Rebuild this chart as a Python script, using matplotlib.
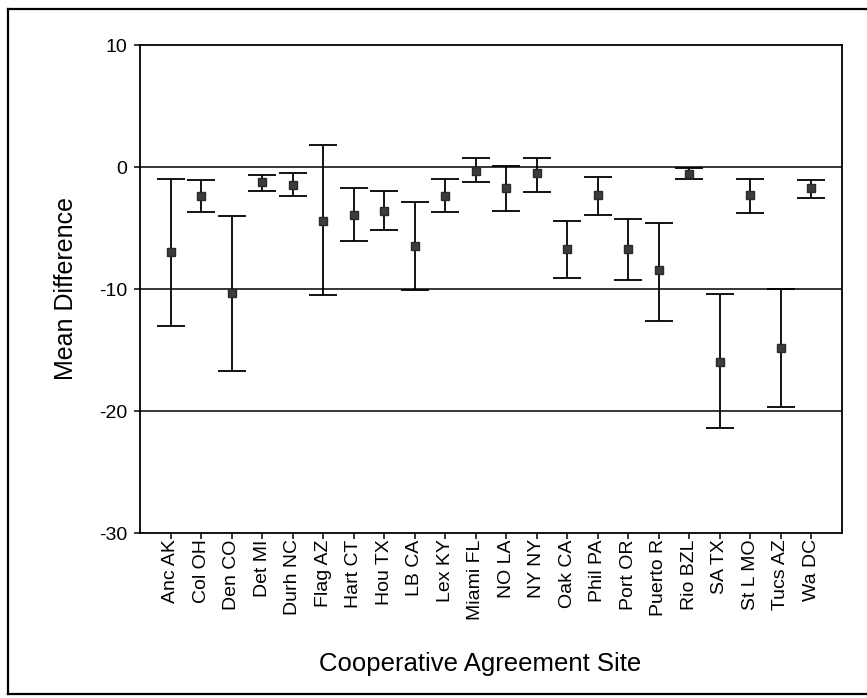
import matplotlib
matplotlib.use("Agg")
import matplotlib.pyplot as plt
from matplotlib.lines import Line2D
import numpy as np

plt.rcParams["font.family"] = ["Liberation Sans", "DejaVu Sans"]
plt.rcParams["axes.unicode_minus"] = False

sites = ["Anc AK", "Col OH", "Den CO", "Det MI", "Durh NC", "Flag AZ",
         "Hart CT", "Hou TX", "LB CA", "Lex KY", "Miami FL", "NO LA",
         "NY NY", "Oak CA", "Phil PA", "Port OR", "Puerto R", "Rio BZL",
         "SA TX", "St L MO", "Tucs AZ", "Wa DC"]
mean_diff = [-7.0, -2.4, -10.35, -1.2, -1.5, -4.45, -3.9, -3.6, -6.5, -2.4,
             -0.3, -1.7, -0.5, -6.7, -2.3, -6.75, -8.45, -0.55, -16.0, -2.3,
             -14.8, -1.75]
ci_low = [-13.0, -3.7, -16.7, -1.95, -2.4, -10.5, -6.1, -5.2, -10.1, -3.7,
          -1.25, -3.6, -2.05, -9.1, -3.95, -9.3, -12.6, -1.0, -21.4, -3.8,
          -19.7, -2.5]
ci_high = [-1.0, -1.05, -4.0, -0.65, -0.5, 1.8, -1.7, -2.0, -2.9, -1.0,
           0.7, 0.1, 0.7, -4.4, -0.8, -4.3, -4.6, -0.1, -10.4, -1.0,
           -10.0, -1.1]
y_ticks = [10, 0, -10, -20, -30]

W, H = 867, 698
fig = plt.figure(figsize=(W / 100, H / 100), dpi=100)
ax = fig.add_axes([140 / W, 1 - 533 / H, (842 - 140) / W, (533 - 45) / H])

x = np.arange(1, len(sites) + 1)
mean = np.array(mean_diff)
lo = mean - np.array(ci_low)
hi = np.array(ci_high) - mean

ax.errorbar(x, mean, yerr=[lo, hi], fmt="s", color="black",
            markerfacecolor="#3c3c3c", markeredgecolor="#2a2a2a",
            markersize=6, ecolor="black", elinewidth=1.3, capsize=10,
            capthick=1.3, zorder=3)

ax.set_xlim(0, len(sites) + 1)
ax.set_ylim(-30, 10)
ax.set_yticks(y_ticks)
ax.set_yticklabels([str(v) for v in y_ticks])
ax.set_xticks(x)
ax.set_xticklabels(sites, rotation=90, va="top", ha="center")

for v in (0, -10, -20):
    ax.axhline(v, color="black", linewidth=1.1, zorder=1)

ax.tick_params(axis="both", direction="out", length=4, width=1.1,
               labelsize=14, colors="black")
ax.tick_params(axis="x", pad=0.5)
ax.tick_params(axis="y", pad=5)
for s in ax.spines.values():
    s.set_linewidth(1.3)
    s.set_color("black")

fig.text(66 / W, 1 - 288 / H, "Mean Difference", rotation=90,
         ha="center", va="center", fontsize=18)
fig.text(480 / W, 1 - 664 / H, "Cooperative Agreement Site",
         ha="center", va="center", fontsize=18.5)

# outer frame around the figure
frame_kw = dict(color="black", linewidth=1.6, transform=fig.transFigure)
fig.add_artist(Line2D([8 / W, 1.0], [1 - 9 / H, 1 - 9 / H], **frame_kw))
fig.add_artist(Line2D([8 / W, 8 / W], [1 - 9 / H, 1 - 694 / H], **frame_kw))
fig.add_artist(Line2D([8 / W, 1.0], [1 - 694 / H, 1 - 694 / H], **frame_kw))

fig.savefig("out.png", dpi=100)
